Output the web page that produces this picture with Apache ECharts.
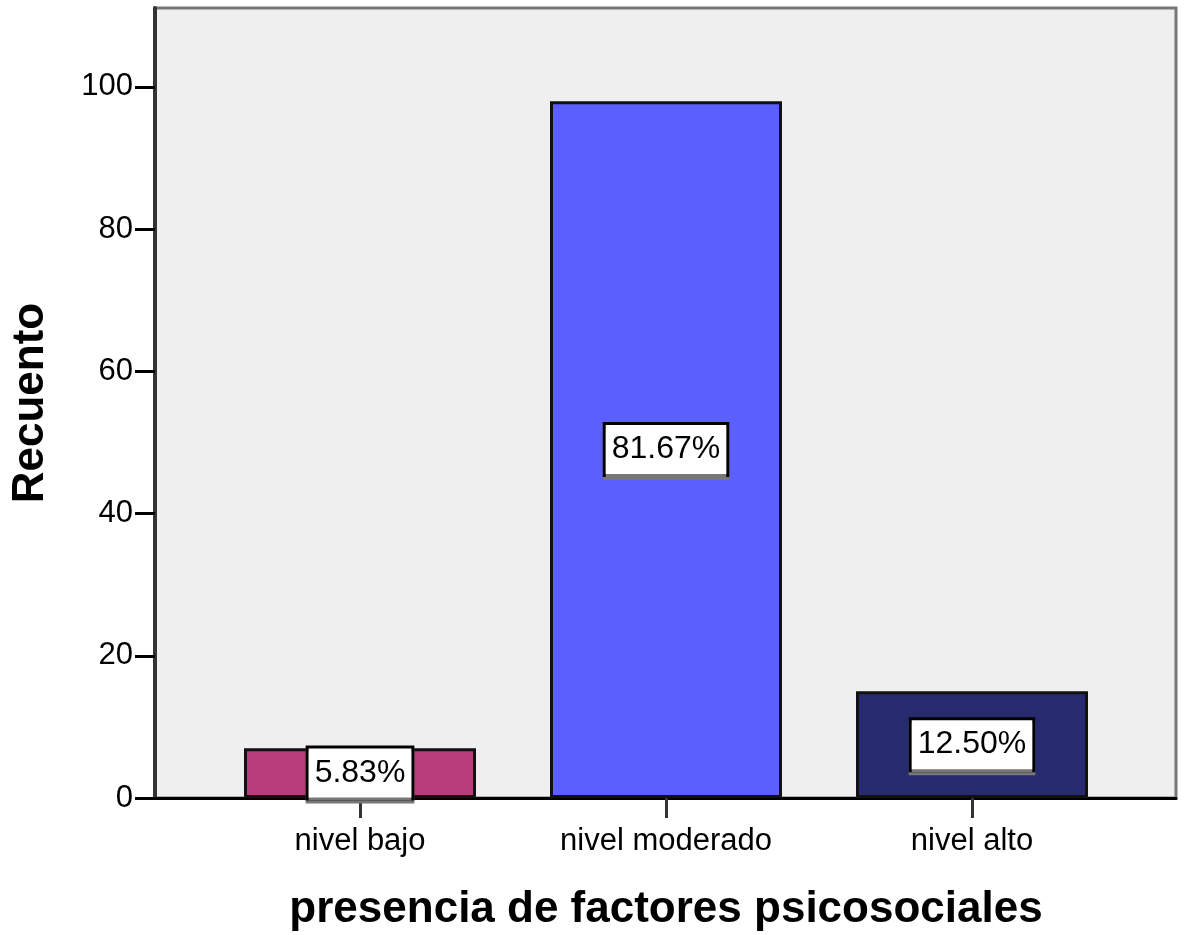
<!DOCTYPE html>
<html>
<head>
<meta charset="utf-8">
<script src="https://cdn.jsdelivr.net/npm/echarts@6/dist/echarts.min.js"></script>
<style>
html,body{margin:0;padding:0;background:#fff;}
#chart{width:1184px;height:935px;}
</style>
</head>
<body>
<div id="chart"></div>
<script>
const categories = ['nivel bajo', 'nivel moderado', 'nivel alto'];
const counts = [7, 98, 15];
const yTicks = [0, 20, 40, 60, 80, 100];
const barColors = ['#b93d7b', '#5b5ffe', '#282a70'];
const xTitle = 'presencia de factores psicosociales';
const yTitle = 'Recuento';

const total = counts.reduce((a, b) => a + b, 0);
const yMax = 111.1;
const font = '"Liberation Sans", Arial, sans-serif';

const chart = echarts.init(document.getElementById('chart'), null, {renderer: 'canvas'});
chart.setOption({
  animation: false,
  backgroundColor: '#ffffff',
  grid: [
    {left: 155, right: 8, top: 8, bottom: 137, show: true, backgroundColor: '#efefef', borderColor: '#777777', borderWidth: 3, containLabel: false, outerBoundsMode: 'none'},
    {left: 207, right: 59, top: 8, bottom: 137, containLabel: false, outerBoundsMode: 'none'}
  ],
  xAxis: [
    {type: 'category', gridIndex: 0, data: categories,
     axisLine: {show: true, lineStyle: {color: '#000', width: 3}},
     axisTick: {show: false}, axisLabel: {show: false}, splitLine: {show: false}},
    {type: 'category', gridIndex: 1, data: categories,
     axisLine: {show: false},
     axisTick: {show: true, alignWithLabel: true, length: 20, lineStyle: {color: '#333', width: 3}},
     axisLabel: {show: true, margin: 28, fontSize: 31, color: '#000', fontFamily: font},
     name: xTitle, nameLocation: 'middle', nameGap: 90,
     nameTextStyle: {fontSize: 44, fontWeight: 'bold', color: '#000', fontFamily: font}}
  ],
  yAxis: [
    {type: 'value', gridIndex: 0, min: 0, max: yMax, interval: 20,
     axisLine: {show: true, lineStyle: {color: '#333', width: 4}},
     axisTick: {show: true, length: 20, lineStyle: {color: '#000', width: 3}, customValues: yTicks},
     axisLabel: {show: true, margin: 22, fontSize: 31, color: '#000', fontFamily: font, customValues: yTicks},
     splitLine: {show: false},
     name: yTitle, nameLocation: 'middle', nameGap: 102, nameRotate: 90,
     nameTextStyle: {fontSize: 44, fontWeight: 'bold', color: '#000', fontFamily: font}},
    {type: 'value', gridIndex: 1, min: 0, max: yMax, show: false, splitLine: {show: false}}
  ],
  series: [{
    type: 'bar',
    xAxisIndex: 1,
    yAxisIndex: 1,
    barWidth: 232,
    data: counts.map((v, i) => ({value: v, itemStyle: {color: barColors[i]}})),
    itemStyle: {borderColor: '#111', borderWidth: 3},
    label: {
      show: true,
      position: 'inside',
      formatter: p => (p.value / total * 100).toFixed(2) + '%',
      fontSize: 32,
      fontFamily: font,
      color: '#000',
      backgroundColor: '#fff',
      borderColor: '#000',
      borderWidth: 3,
      padding: [9, 6, 8, 6],
      shadowColor: '#777',
      shadowOffsetY: 3,
      shadowOffsetX: 0,
      shadowBlur: 0
    }
  }]
});
</script>
</body>
</html>
